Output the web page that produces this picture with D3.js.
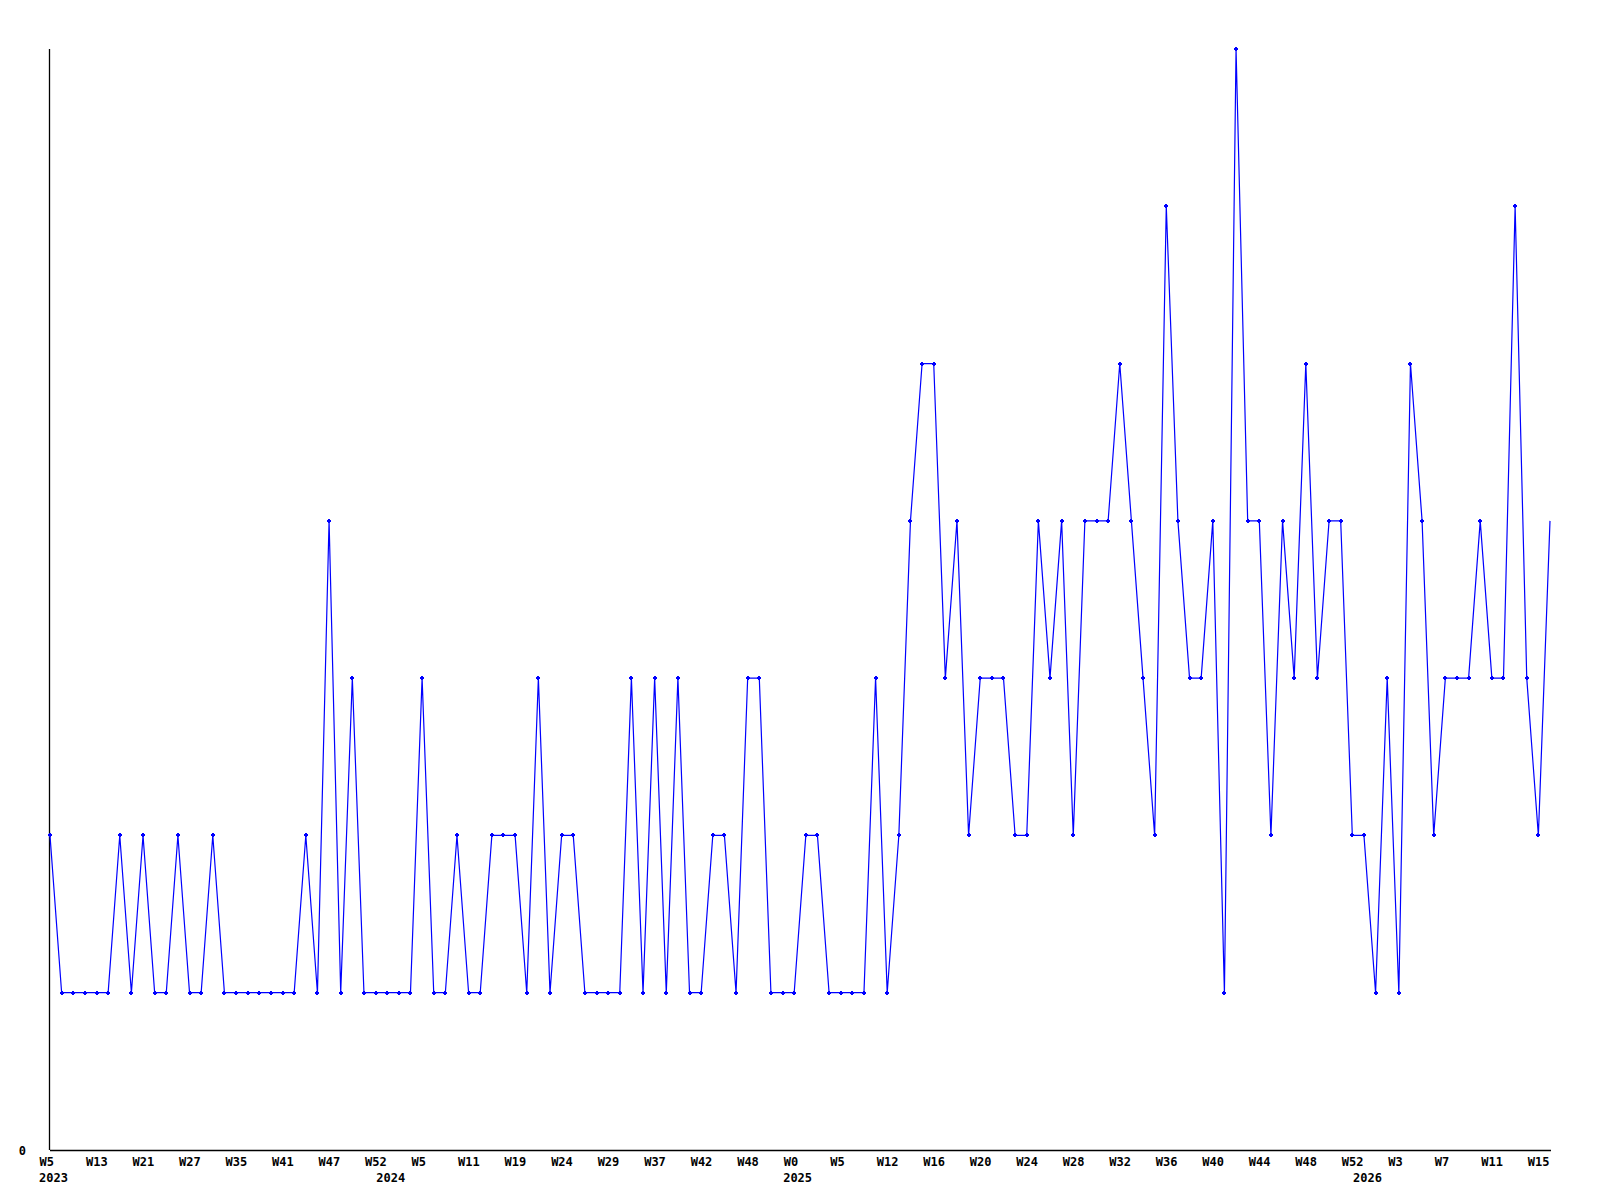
<!DOCTYPE html>
<html>
<head>
<meta charset="utf-8">
<script src="https://cdn.jsdelivr.net/npm/d3@7"></script>
<style>
  body { margin: 0; background: #fff; }
  #chart text { font-family: "DejaVu Sans Mono", monospace; font-weight: bold; font-size: 12px; fill: #000; }
</style>
</head>
<body>
<div id="chart"></div>
<script>
// one value per point, 130 points
const values = [
    2, 1, 1, 1, 1, 1, 2, 1, 2, 1,
    1, 2, 1, 1, 2, 1, 1, 1, 1, 1,
    1, 1, 2, 1, 4, 1, 3, 1, 1, 1,
    1, 1, 3, 1, 1, 2, 1, 1, 2, 2,
    2, 1, 3, 1, 2, 2, 1, 1, 1, 1,
    3, 1, 3, 1, 3, 1, 1, 2, 2, 1,
    3, 3, 1, 1, 1, 2, 2, 1, 1, 1,
    1, 3, 1, 2, 4, 5, 5, 3, 4, 2,
    3, 3, 3, 2, 2, 4, 3, 4, 2, 4,
    4, 4, 5, 4, 3, 2, 6, 4, 3, 3,
    4, 1, 7, 4, 4, 2, 4, 3, 5, 3,
    4, 4, 2, 2, 1, 3, 1, 5, 4, 2,
    3, 3, 3, 4, 3, 3, 6, 3, 2, 4
];

// week labels, one every 4 points
const weekLabels = [
    "W5", "W13", "W21", "W27", "W35", "W41", "W47", "W52",
    "W5", "W11", "W19", "W24", "W29", "W37", "W42", "W48",
    "W0", "W5", "W12", "W16", "W20", "W24", "W28", "W32",
    "W36", "W40", "W44", "W48", "W52", "W3", "W7", "W11", "W15"
];
const labelEvery = 4;

// year labels and the point where each year starts
const years = ["2023", "2024", "2025", "2026"];
const yearStarts = [0, 29, 64, 113];

const yMax = 7;

function draw() {
    const width = 1600, height = 1200;

    const svg = d3.select("#chart").append("svg")
        .attr("width", width)
        .attr("height", height);

    const x = d3.scaleLinear().domain([0, values.length - 1]).range([50, 1550]);
    const y = d3.scaleLinear().domain([0, yMax]).range([1150, 49]);

    // x axis: week labels, no tick marks
    const xAxis = svg.append("g")
        .attr("transform", "translate(0,1150)")
        .call(d3.axisBottom(x)
            .tickValues(weekLabels.map((d, i) => i * labelEvery))
            .tickFormat((d) => weekLabels[d / labelEvery])
            .tickSize(0)
            .tickPadding(7));
    xAxis.select(".domain").remove();
    xAxis.selectAll("text")
        .attr("text-anchor", "start")
        .attr("dx", -11)
        .attr("dy", "0.71em");

    svg.append("line")
        .attr("x1", 50).attr("x2", 1551)
        .attr("y1", 1150.5).attr("y2", 1150.5)
        .attr("stroke", "#000")
        .attr("stroke-width", 1.3);

    // year labels under the week labels
    svg.append("g").selectAll("text")
        .data(years)
        .enter().append("text")
        .attr("x", (d, i) => x(yearStarts[i]) - 11)
        .attr("y", 1182)
        .text((d) => d);

    // y axis: only the zero label
    const yAxis = svg.append("g")
        .attr("transform", "translate(50,0)")
        .call(d3.axisLeft(y).tickValues([0]).tickFormat(d3.format("d")).tickSize(0).tickPadding(24));
    yAxis.select(".domain").remove();
    yAxis.selectAll("text").attr("dy", "0.35em");

    svg.append("line")
        .attr("x1", 49.5).attr("x2", 49.5)
        .attr("y1", 49).attr("y2", 1150)
        .attr("stroke", "#000")
        .attr("stroke-width", 1.3);

    const line = d3.line()
        .x((d, i) => x(i))
        .y((d) => y(d));

    svg.append("path")
        .datum(values)
        .attr("d", line)
        .attr("fill", "none")
        .attr("stroke", "#0000ff")
        .attr("stroke-width", 1.2);

    // small plus markers at every point except the last
    svg.append("g").selectAll("path")
        .data(values.slice(0, -1))
        .enter().append("path")
        .attr("d", (d, i) => {
            const cx = Math.round(x(i)), cy = Math.round(y(d));
            return "M" + (cx - 2) + "," + cy + "H" + (cx + 2) + "M" + cx + "," + (cy - 2) + "V" + (cy + 2);
        })
        .attr("stroke", "#0000ff")
        .attr("stroke-width", 2)
        .attr("fill", "none");
}

draw();
</script>
</body>
</html>
